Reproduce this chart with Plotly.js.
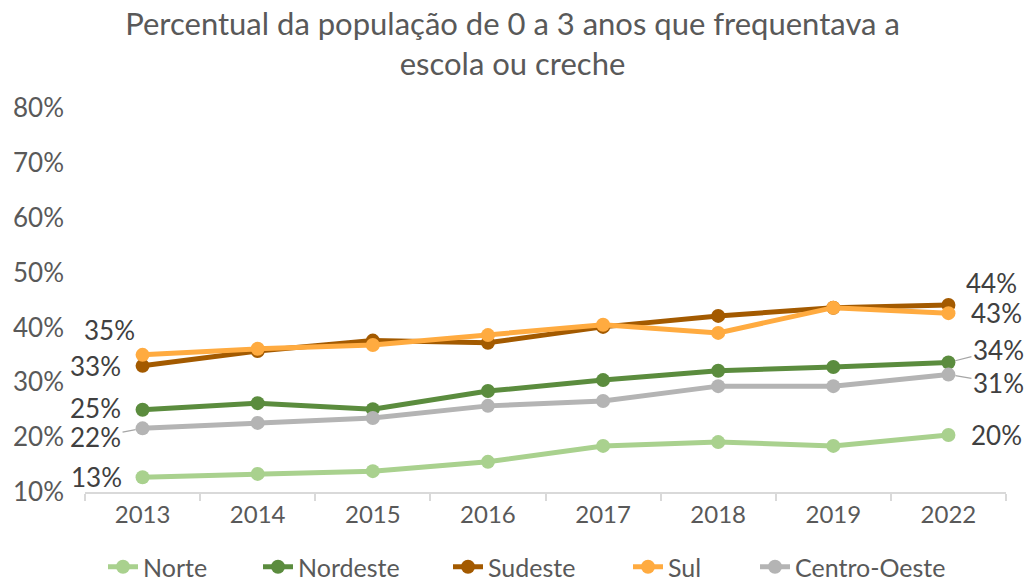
<!DOCTYPE html>
<html><head><meta charset="utf-8">
<script src="https://cdn.plot.ly/plotly-3.0.1.min.js"></script>
<style>body{margin:0;background:#fff}#c{width:1025px;height:582px}</style>
</head><body><div id="c"></div>
<script>
const years = ["2013","2014","2015","2016","2017","2018","2019","2022"];
const norte = [12.7,13.3,13.8,15.5,18.4,19.1,18.4,20.4];
const nordeste = [25.0,26.2,25.1,28.4,30.4,32.1,32.8,33.6];
const sudeste = [33.0,35.7,37.6,37.2,40.1,42.1,43.6,44.1];
const sul = [35.0,36.1,36.8,38.6,40.5,39.0,43.6,42.6];
const centroOeste = [21.6,22.6,23.5,25.7,26.6,29.3,29.3,31.4];
const seriesNames = ["Norte","Nordeste","Sudeste","Sul","Centro-Oeste"];
const seriesData = [norte,nordeste,sudeste,sul,centroOeste];
const colors = ["#A9D18E","#5B8C3E","#A35A00","#FFAB40","#B4B4B4"];

const FONT = "Lato, 'Open Sans', sans-serif";
const idx = years.map((_,i)=>i);
const bounds = years.map((_,i)=>i-0.5).concat([years.length-0.5]);
const legendIds = ["legend2","legend3","legend4","legend5","legend6"];
const legendTextStart = [145,300,490,670,797];

const traces = seriesNames.map((n,i)=>({
  type:"scatter", mode:"lines+markers", name:n, x:idx, y:seriesData[i],
  legend:legendIds[i], showlegend:true,
  line:{color:colors[i], width:5}, marker:{color:colors[i], size:14}
}));

// label offsets (first / last point) [dx, dy in px, leader line?]
const firstOff = [[-46,0,false],[-47,2,false],[-47,0,false],[-33,25,false],[-47,-9,true]];
const lastOff  = [[48,0,false],[50,13,true],[43,22,false],[48,0,false],[50,-8,true]];
const ann = [];
function addLabel(xv, yv, off){
  const base = {x:xv, y:yv, xref:"x", yref:"y", text:Math.round(yv)+"%",
    font:{family:FONT,size:26,color:"#404040"}};
  if(off[2]){
    Object.assign(base,{showarrow:true, ax:off[0], ay:-off[1], axref:"pixel", ayref:"pixel",
      arrowhead:0, arrowwidth:1.2, arrowcolor:"#A6A6A6", standoff:7});
  } else {
    Object.assign(base,{showarrow:false, xshift:off[0], yshift:off[1]});
  }
  ann.push(base);
}
seriesData.forEach((d,i)=>{
  addLabel(idx[0], d[0], firstOff[i]);
  const L=d.length-1;
  addLabel(idx[L], d[L], lastOff[i]);
});

const layout = {
  width:1025, height:582, showlegend:true,
  margin:{l:85, r:19, t:108, b:90},
  paper_bgcolor:"#fff", plot_bgcolor:"#fff",
  title:{text:"Percentual da população de 0 a 3 anos que frequentava a<br>escola ou creche",
    x:0.5, xanchor:"center", y:1-35/582, yanchor:"middle",
    font:{family:FONT, size:31, color:"#595959"}},
  xaxis:{range:[-0.5, years.length-0.5], tickvals:idx, ticktext:years,
    showgrid:false, showline:true, linecolor:"#D9D9D9", linewidth:2,
    ticks:"", automargin:false,
    minor:{tickvals:bounds, ticks:"outside", ticklen:7, tickcolor:"#D9D9D9", tickwidth:1.5, showgrid:false},
    tickfont:{family:FONT, size:24, color:"#595959"}, zeroline:false},
  yaxis:{range:[10,80], tickvals:[10,20,30,40,50,60,70,80],
    ticktext:["10%","20%","30%","40%","50%","60%","70%","80%"],
    showgrid:false, zeroline:false, showline:false, ticks:"",
    ticklabelstandoff:20, automargin:false,
    tickfont:{family:FONT, size:26, color:"#595959"}},
  annotations:ann
};
legendIds.forEach((id,i)=>{
  layout[id] = {orientation:"h", xref:"container", yref:"container",
    x:(legendTextStart[i]-42)/1025, xanchor:"left", y:15/582, yanchor:"middle",
    bgcolor:"rgba(0,0,0,0)", font:{family:FONT, size:25, color:"#595959"}};
});
Plotly.newPlot("c", traces, layout, {displayModeBar:false});
</script></body></html>
